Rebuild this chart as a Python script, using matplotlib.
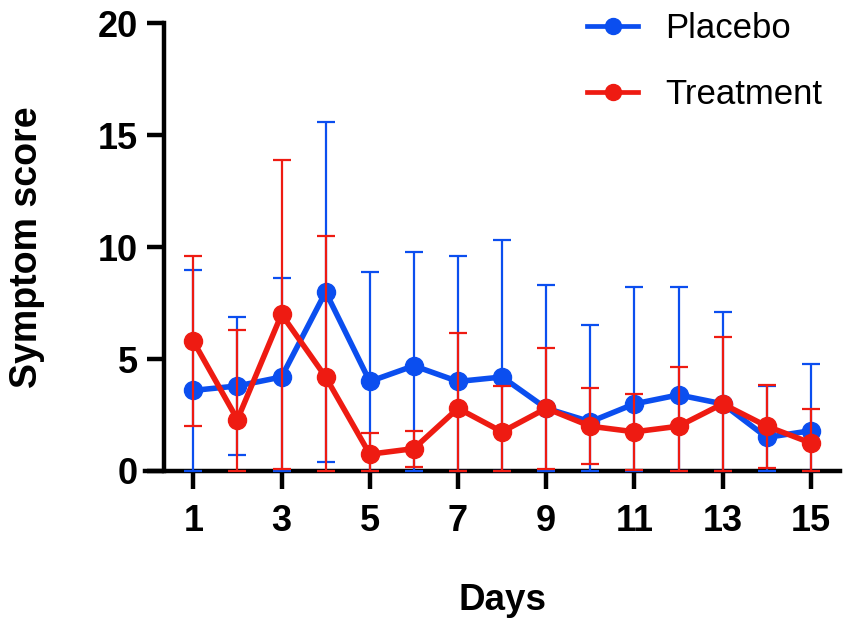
import numpy as np
import matplotlib
matplotlib.use("Agg")
import matplotlib.pyplot as plt
from matplotlib.lines import Line2D

days = np.arange(1, 16)
placebo_mean = [3.6, 3.8, 4.2, 8.0, 4.0, 4.7, 4.0, 4.2, 2.8, 2.2, 3.0, 3.4, 3.0, 1.5, 1.8]
placebo_sd = [5.4, 3.1, 4.4, 7.6, 4.9, 5.1, 5.6, 6.1, 5.5, 4.3, 5.2, 4.8, 4.1, 2.3, 3.0]
treat_mean = [5.8, 2.3, 7.0, 4.2, 0.75, 1.0, 2.8, 1.75, 2.8, 2.0, 1.75, 2.0, 3.0, 2.0, 1.25]
treat_sd = [3.8, 4.0, 6.9, 6.3, 0.95, 0.8, 3.35, 2.05, 2.7, 1.7, 1.7, 2.65, 3.0, 1.85, 1.5]
x_ticks = [1, 3, 5, 7, 9, 11, 13, 15]
y_ticks = [0, 5, 10, 15, 20]

blue = "#0B4EEF"
red = "#EE1B12"

plt.rcParams["font.family"] = ["Liberation Sans", "DejaVu Sans"]

fig = plt.figure(figsize=(8.51, 6.28), dpi=100)
ax = fig.add_axes([0.1704, 0.25, 0.8167, 0.7129])

series = [
    (placebo_mean, placebo_sd, blue, "Placebo"),
    (treat_mean, treat_sd, red, "Treatment"),
]
z = 2
for mean, sd, col, name in series:
    mean = np.array(mean)
    sd = np.array(sd)
    # error bars are cut at the axis (0)
    lower = np.minimum(sd, mean)
    ax.errorbar(days, mean, yerr=[lower, sd], fmt="none", ecolor=col,
                elinewidth=1.6, capsize=6.5, capthick=1.6, zorder=z,
                clip_on=False)
    ax.plot(days, mean, "-o", color=col, lw=4.0, ms=13, zorder=z + 1,
            clip_on=False)
    z += 2

ax.set_xlim(-0.095, 15.66)
ax.set_ylim(0, 20)
ax.set_xticks(x_ticks)
ax.set_yticks(y_ticks)

for s in ["top", "right"]:
    ax.spines[s].set_visible(False)
ax.spines["left"].set_position(("data", 0.336))
ax.spines["left"].set_linewidth(3.2)
ax.spines["bottom"].set_linewidth(3.2)
ax.spines["bottom"].set_zorder(1)

ax.tick_params(axis="x", length=13, width=3.2, pad=11, labelsize=26)
ax.tick_params(axis="y", length=12, width=3.2, pad=7, labelsize=26)
for lab in ax.get_xticklabels() + ax.get_yticklabels():
    lab.set_fontweight("bold")

fig.text(27 / 851, 1 - 247 / 628, "Symptom score", rotation=90,
         ha="center", va="center", fontsize=27, fontweight="bold")
fig.text(503 / 851, 1 - 600 / 628, "Days", ha="center", va="center",
         fontsize=26.5, fontweight="bold")

handles = [Line2D([], [], color=c, lw=3.4, marker="o", ms=11.5)
           for _, _, c, _ in series]
fig.legend(handles, [s[3] for s in series], loc="upper left",
           bbox_to_anchor=(587 / 851, 1 - 12 / 628), frameon=False,
           fontsize=25, handlelength=1.47, handletextpad=0.78,
           labelspacing=0.95, borderpad=0, borderaxespad=0)

fig.savefig("out.png", dpi=100)
